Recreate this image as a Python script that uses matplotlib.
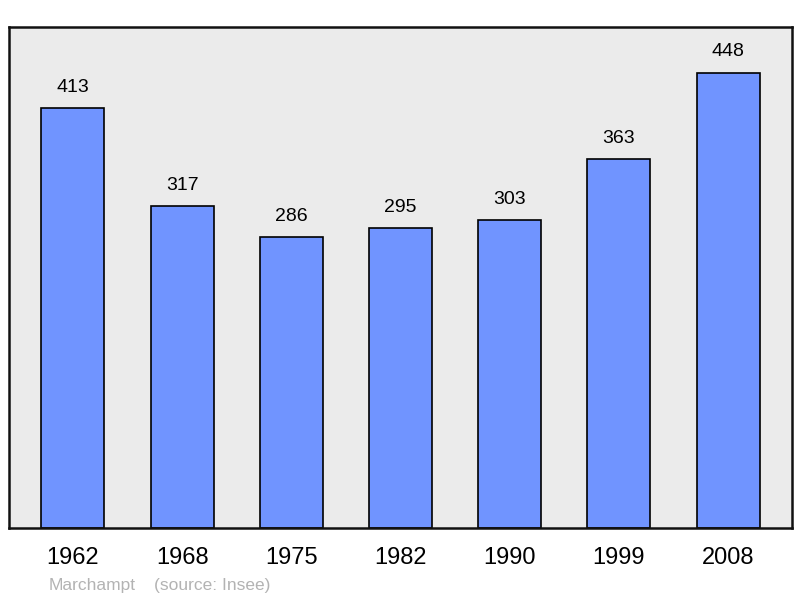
import matplotlib.pyplot as plt

plt.rcParams['font.family'] = ['Liberation Sans', 'DejaVu Sans']

years = ["1962", "1968", "1975", "1982", "1990", "1999", "2008"]
population = [413, 317, 286, 295, 303, 363, 448]
commune = "Marchampt"
source = "(source: Insee)"

fig = plt.figure(figsize=(8, 5.98), dpi=100)
ax = fig.add_axes([0.01125, 0.117, 0.97875, 0.838])
ax.set_facecolor("#ebebeb")

x = range(len(years))
ax.bar(x, population, width=0.576, color="#7094ff", edgecolor="black",
       linewidth=1.2, zorder=2)
for i, v in zip(x, population):
    ax.text(i, v + 12, str(v), ha="center", va="bottom", fontsize=14)

ax.set_xlim(-0.585, len(years) - 1 + 0.585)
ax.set_ylim(0, 493)
ax.set_xticks(list(x))
ax.set_xticklabels(years, fontsize=17)
ax.tick_params(axis="x", length=0, pad=14)
ax.set_yticks([])
for s in ax.spines.values():
    s.set_linewidth(1.8)
    s.set_color("#111111")

fig.text(0.061, 0.014, commune, color="#b3b3b3", fontsize=12.5)
fig.text(0.193, 0.014, source, color="#b3b3b3", fontsize=12.5)

fig.savefig("out.png", dpi=100)
